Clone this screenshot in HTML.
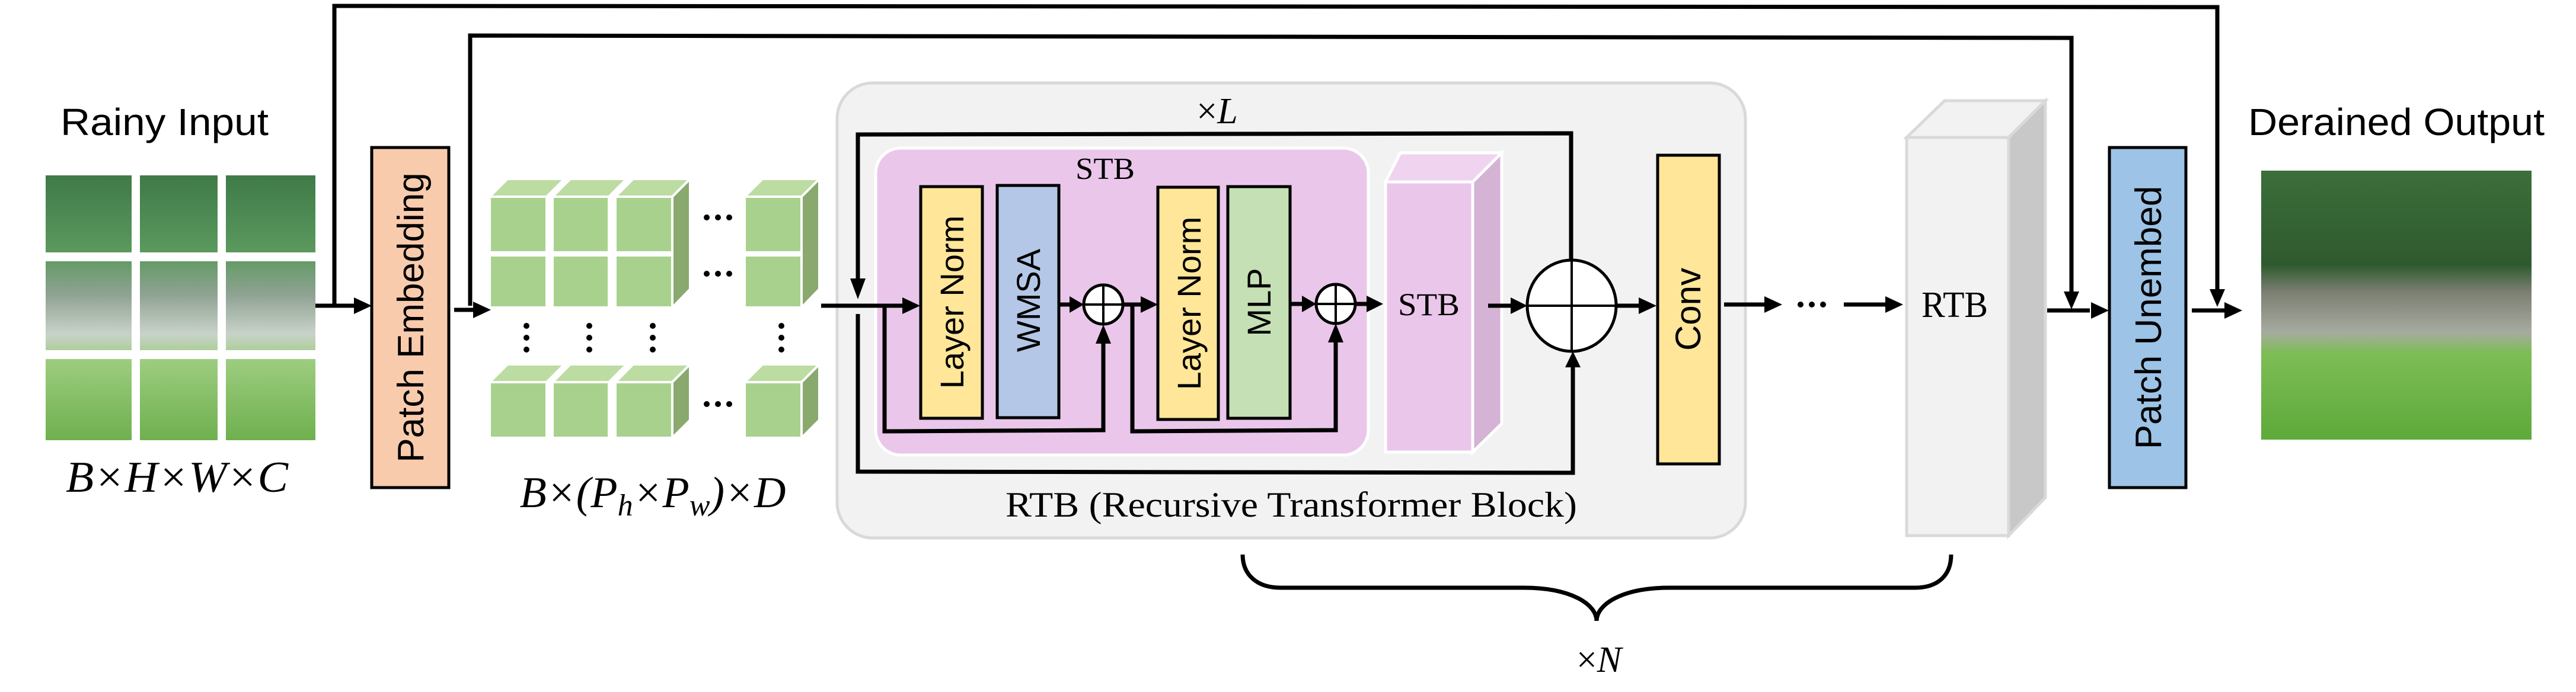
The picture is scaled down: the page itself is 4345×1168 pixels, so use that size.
<!DOCTYPE html>
<html><head><meta charset="utf-8"><style>
html,body{margin:0;padding:0;background:#fff;}
svg{display:block;}
</style></head><body>
<svg width="4345" height="1168" viewBox="0 0 4345 1168" xmlns="http://www.w3.org/2000/svg">
<defs>
<linearGradient id="rainImg" x1="0" y1="0" x2="0" y2="1">
<stop offset="0" stop-color="#3f7a48"/><stop offset="0.3" stop-color="#5c9a5e"/>
<stop offset="0.45" stop-color="#8fa293"/><stop offset="0.6" stop-color="#c9d2c9"/>
<stop offset="0.7" stop-color="#9ccc7e"/><stop offset="1" stop-color="#6fb04f"/>
</linearGradient>
<linearGradient id="outImg" x1="0" y1="0" x2="0" y2="1">
<stop offset="0" stop-color="#3c6e3a"/><stop offset="0.35" stop-color="#2f5a2e"/>
<stop offset="0.45" stop-color="#7a7f72"/><stop offset="0.6" stop-color="#a7ab9f"/>
<stop offset="0.68" stop-color="#7dbd55"/><stop offset="1" stop-color="#5ea93a"/>
</linearGradient>
</defs>

<text x="102" y="228" font-family="Liberation Sans, sans-serif" font-size="64" textLength="351" lengthAdjust="spacingAndGlyphs">Rainy  Input</text>
<text x="3792" y="228" font-family="Liberation Sans, sans-serif" font-size="64" textLength="500" lengthAdjust="spacingAndGlyphs">Derained Output</text>

<rect x="77" y="296" width="455" height="447" fill="url(#rainImg)"/>
<rect x="222" y="296" width="14" height="447" fill="#fff"/>
<rect x="367" y="296" width="14" height="447" fill="#fff"/>
<rect x="77" y="426" width="455" height="15" fill="#fff"/>
<rect x="77" y="591" width="455" height="15" fill="#fff"/>
<text x="111" y="830" font-family="Liberation Serif, serif" font-style="italic" font-size="74" textLength="375" lengthAdjust="spacingAndGlyphs">B×H×W×C</text>

<rect x="3814" y="288" width="456" height="454" fill="url(#outImg)"/>

<rect x="627" y="249" width="130" height="574" fill="#f8cbad" stroke="#000" stroke-width="5"/>
<text transform="translate(714,536) rotate(-90)" font-family="Liberation Sans, sans-serif" font-size="62" text-anchor="middle">Patch Embedding</text>

<rect x="3558" y="249" width="129" height="574" fill="#9dc3e6" stroke="#000" stroke-width="5"/>
<text transform="translate(3645,536) rotate(-90)" font-family="Liberation Sans, sans-serif" font-size="62" text-anchor="middle">Patch Unembed</text>

<g fill="none" stroke="#000" stroke-width="7">
<polyline points="532,516 600,516"/>
<polyline points="564,516 564,10 3740,12 3740,490"/>
<polyline points="793,516 793,60 3494,64 3494,495"/>
<polyline points="766,523 800,523"/>
<polyline points="3453,524 3525,524"/>
<polyline points="3697,524 3752,524"/>
</g>
<g fill="#000">
<polygon points="627,516 597,502 597,530"/>
<polygon points="828,523 798,509 798,537"/>
<polygon points="3557,524 3527,510 3527,538"/>
<polygon points="3782,524 3752,510 3752,538"/>
<polygon points="3740,518 3727,488 3753,488"/>
<polygon points="3494,522 3481,492 3507,492"/>
</g>

<g stroke="#fff" stroke-width="4" stroke-linejoin="miter">
<polygon points="826,332 856,302 952,302 922,332" fill="#bcdca2"/>
<polygon points="932,332 962,302 1057,302 1027,332" fill="#bcdca2"/>
<polygon points="1038,332 1068,302 1164,302 1134,332" fill="#bcdca2"/>
<polygon points="1134,332 1164,302 1164,488 1134,519" fill="#89a96e"/>
<rect x="826" y="332" width="96" height="94" fill="#a9d18e"/>
<rect x="932" y="332" width="95" height="94" fill="#a9d18e"/>
<rect x="1038" y="332" width="96" height="94" fill="#a9d18e"/>
<rect x="826" y="431" width="96" height="88" fill="#a9d18e"/>
<rect x="932" y="431" width="95" height="88" fill="#a9d18e"/>
<rect x="1038" y="431" width="96" height="88" fill="#a9d18e"/>
<polygon points="1256,332 1286,302 1382,302 1352,332" fill="#bcdca2"/>
<polygon points="1352,332 1382,302 1382,488 1352,519" fill="#89a96e"/>
<rect x="1256" y="332" width="96" height="94" fill="#a9d18e"/>
<rect x="1256" y="431" width="96" height="88" fill="#a9d18e"/>
<polygon points="826,645 856,615 952,615 922,645" fill="#bcdca2"/>
<polygon points="932,645 962,615 1057,615 1027,645" fill="#bcdca2"/>
<polygon points="1038,645 1068,615 1164,615 1134,645" fill="#bcdca2"/>
<polygon points="1134,645 1164,615 1164,709 1134,739" fill="#89a96e"/>
<rect x="826" y="645" width="96" height="94" fill="#a9d18e"/>
<rect x="932" y="645" width="95" height="94" fill="#a9d18e"/>
<rect x="1038" y="645" width="96" height="94" fill="#a9d18e"/>
<polygon points="1256,645 1286,615 1382,615 1352,645" fill="#bcdca2"/>
<polygon points="1352,645 1382,615 1382,709 1352,739" fill="#89a96e"/>
<rect x="1256" y="645" width="96" height="94" fill="#a9d18e"/>
</g>
<g fill="#000">
<circle cx="1192" cy="367" r="5"/><circle cx="1211" cy="367" r="5"/><circle cx="1230" cy="367" r="5"/>
<circle cx="1192" cy="462" r="5"/><circle cx="1211" cy="462" r="5"/><circle cx="1230" cy="462" r="5"/>
<circle cx="1192" cy="682" r="5"/><circle cx="1211" cy="682" r="5"/><circle cx="1230" cy="682" r="5"/>
<circle cx="888" cy="550" r="5"/><circle cx="888" cy="570" r="5"/><circle cx="888" cy="590" r="5"/>
<circle cx="994" cy="550" r="5"/><circle cx="994" cy="570" r="5"/><circle cx="994" cy="590" r="5"/>
<circle cx="1101" cy="550" r="5"/><circle cx="1101" cy="570" r="5"/><circle cx="1101" cy="590" r="5"/>
<circle cx="1318" cy="550" r="5"/><circle cx="1318" cy="570" r="5"/><circle cx="1318" cy="590" r="5"/>
</g>
<text x="1101" y="856" font-family="Liberation Serif, serif" font-style="italic" font-size="74" text-anchor="middle">B×(P<tspan font-size="52" dy="14">h</tspan><tspan dy="-14">×P</tspan><tspan font-size="52" dy="14">w</tspan><tspan dy="-14">)×D</tspan></text>

<rect x="1412" y="140" width="1532" height="768" rx="60" fill="#f2f2f2" stroke="#d9d9d9" stroke-width="5"/>
<text x="2053" y="208" font-family="Liberation Serif, serif" font-size="62" text-anchor="middle">×<tspan font-style="italic">L</tspan></text>

<rect x="1477" y="250" width="831" height="518" rx="42" fill="#eac7ea" stroke="#fff" stroke-width="5"/>
<text x="1864" y="302" font-family="Liberation Serif, serif" font-size="52" text-anchor="middle" textLength="100" lengthAdjust="spacingAndGlyphs">STB</text>

<rect x="1553" y="315" width="104" height="391" fill="#ffe699" stroke="#000" stroke-width="5"/>
<text transform="translate(1625,510) rotate(-90)" font-family="Liberation Sans, sans-serif" font-size="56" text-anchor="middle">Layer Norm</text>
<rect x="1682" y="313" width="104" height="392" fill="#b4c7e7" stroke="#000" stroke-width="5"/>
<text transform="translate(1754,507) rotate(-90)" font-family="Liberation Sans, sans-serif" font-size="56" text-anchor="middle">WMSA</text>
<rect x="1953" y="316" width="102" height="392" fill="#ffe699" stroke="#000" stroke-width="5"/>
<text transform="translate(2025,512) rotate(-90)" font-family="Liberation Sans, sans-serif" font-size="56" text-anchor="middle">Layer Norm</text>
<rect x="2071" y="315" width="105" height="391" fill="#c5e0b4" stroke="#000" stroke-width="5"/>
<text transform="translate(2143,510) rotate(-90)" font-family="Liberation Sans, sans-serif" font-size="56" text-anchor="middle">MLP</text>

<g stroke="#fff" stroke-width="5">
<polygon points="2337,307 2362,258 2533,258 2508,307" fill="#efd3ef"/>
<polygon points="2484,307 2533,258 2533,715 2484,763" fill="#d5b3d5"/>
<rect x="2337" y="307" width="147" height="456" fill="#eac7ea"/>
</g>
<text x="2410" y="532" font-family="Liberation Serif, serif" font-size="54" text-anchor="middle" textLength="104" lengthAdjust="spacingAndGlyphs">STB</text>

<rect x="2796" y="262" width="104" height="521" fill="#ffe699" stroke="#000" stroke-width="5"/>
<text transform="translate(2868,522) rotate(-90)" font-family="Liberation Sans, sans-serif" font-size="60" text-anchor="middle">Conv</text>

<g fill="none" stroke="#000" stroke-width="7">
<polyline points="1385,516 1522,516"/>
<polyline points="1447,470 1447,227 2650,225 2650,441"/>
<polyline points="1447,530 1447,796 2653,798 2653,620"/>
<polyline points="1492,516 1492,728 1861,726 1861,578"/>
<polyline points="1910,516 1910,728 2253,726 2253,575"/>
<polyline points="1786,514 1808,514"/>
<polyline points="1894,514 1925,514"/>
<polyline points="2176,513 2200,513"/>
<polyline points="2286,513 2305,513"/>
<polyline points="2510,516 2550,516"/>
<polyline points="2727,516 2766,516"/>
<polyline points="2908,514 2976,514"/>
<polyline points="3110,514 3180,514"/>
</g>
<g fill="#000">
<polygon points="1552,516 1522,502 1522,530"/>
<polygon points="1447,505 1434,470 1460,470"/>
<polygon points="1861,548 1848,580 1874,580"/>
<polygon points="2253,546 2240,578 2266,578"/>
<polygon points="1828,514 1804,500 1804,528"/>
<polygon points="1953,514 1924,500 1924,528"/>
<polygon points="2220,513 2196,499 2196,527"/>
<polygon points="2333,513 2305,499 2305,527"/>
<polygon points="2576,516 2548,502 2548,530"/>
<polygon points="2653,593 2640,620 2666,620"/>
<polygon points="2794,516 2764,502 2764,530"/>
<polygon points="3006,514 2976,500 2976,528"/>
<polygon points="3210,514 3180,500 3180,528"/>
</g>
<g fill="#fff" stroke="#000" stroke-width="5">
<circle cx="1861" cy="514" r="33"/>
<circle cx="2253" cy="513" r="33"/>
<ellipse cx="2651" cy="516" rx="75" ry="77"/>
</g>
<g stroke="#000" stroke-width="4">
<line x1="1828" y1="514" x2="1894" y2="514"/><line x1="1861" y1="481" x2="1861" y2="547"/>
<line x1="2220" y1="513" x2="2286" y2="513"/><line x1="2253" y1="480" x2="2253" y2="546"/>
<line x1="2576" y1="516" x2="2726" y2="516"/><line x1="2651" y1="439" x2="2651" y2="593"/>
</g>
<g fill="#000">
<circle cx="3037" cy="514" r="5"/><circle cx="3056" cy="514" r="5"/><circle cx="3075" cy="514" r="5"/>
</g>

<text x="2178" y="872" font-family="Liberation Serif, serif" font-size="60" text-anchor="middle" textLength="964" lengthAdjust="spacingAndGlyphs">RTB (Recursive Transformer Block)</text>

<g stroke="#d9d9d9" stroke-width="5">
<polygon points="3216,232 3280,170 3450,170 3388,232" fill="#f2f2f2"/>
<polygon points="3388,232 3450,170 3450,840 3388,904" fill="#c8c8c8"/>
<rect x="3216" y="232" width="172" height="672" fill="#f2f2f2"/>
</g>
<text x="3297" y="535" font-family="Liberation Serif, serif" font-size="62" text-anchor="middle" textLength="112" lengthAdjust="spacingAndGlyphs">RTB</text>

<path d="M2096,936 C2096,970 2120,992 2160,992 L2570,992 C2650,992 2693,1020 2693,1048 C2693,1020 2736,992 2816,992 L3230,992 C3270,992 3291,970 3291,936" fill="none" stroke="#000" stroke-width="7"/>
<text x="2697" y="1134" font-family="Liberation Serif, serif" font-size="62" text-anchor="middle">×<tspan font-style="italic">N</tspan></text>
</svg>
</body></html>
